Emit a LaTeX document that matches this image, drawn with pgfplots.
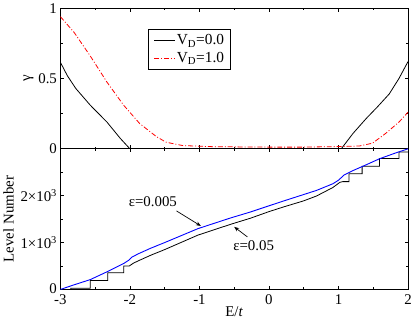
\documentclass[border=0pt]{standalone}
\usepackage{fontspec}
\setmainfont{Liberation Serif}
\usepackage{pgfplots}
\pgfplotsset{compat=1.18}
\usetikzlibrary{arrows.meta}

\pgfplotsset{
  panel/.style={
    scale only axis, width=351pt, height=142pt,
    xmin=-3, xmax=2,
    xtick={-3,-2,...,2}, minor xtick={-2.5,-1.5,...,1.5},
    tick align=inside, major tick length=3.5pt, minor tick length=2.3pt,
    axis line style={line width=0.9pt},
    every tick/.style={black, line width=0.8pt},
    ticklabel style={font=\fontsize{15}{17}\selectfont},
    label style={font=\fontsize{15}{17}\selectfont},
    /pgf/number format/assume math mode=true,
  },
}

\begin{document}
\begin{tikzpicture}
% upper panel: gamma
\begin{axis}[panel,
    at={(0pt,142pt)}, anchor=south west,
    xticklabels={},
    ymin=0, ymax=1,
    ytick={0,0.5,1}, yticklabels={0,0.5,1},
    minor ytick={0.25,0.75},
    ylabel={γ},
    ylabel style={yshift=-2pt},
    legend style={at={(rel axis cs:0.253,0.854)}, anchor=north west,
      draw=black, line width=1pt, font=\fontsize{15.5}{17}\selectfont,
      inner xsep=5pt, inner ysep=4pt, row sep=3pt,
      nodes={inner sep=1.5pt}},
    legend cell align=left,
    legend image code/.code={\draw[#1] (0pt,0pt) -- (21pt,0pt);},
]
\addplot[black, line width=0.8pt] coordinates {
  (-3,0.615)(-2.9,0.52)(-2.78,0.43)(-2.57,0.31)(-2.33,0.19)(-2.14,0.075)(-2.0,0.0)
  (1.04,0)(1.21,0.11)(1.40,0.216)(1.56,0.298)(1.73,0.39)(1.87,0.50)(2,0.62)
};
\addlegendentry{V\textsubscript{D}=0.0}
\addplot[red, line width=0.8pt, dash pattern=on 5pt off 2pt on 1pt off 2pt] coordinates {
  (-3,0.94)(-2.8,0.826)(-2.57,0.66)(-2.33,0.474)(-2.09,0.31)(-1.86,0.18)
  (-1.62,0.087)(-1.48,0.047)(-1.24,0.023)(-0.8,0.015)(0,0.012)(0.45,0.012)
  (1.02,0.016)(1.30,0.02)(1.49,0.04)(1.68,0.11)(1.87,0.19)(2,0.26)
};
\addlegendentry{V\textsubscript{D}=1.0}
\end{axis}

% lower panel: level number
\begin{axis}[panel,
    at={(0pt,0pt)}, anchor=south west,
    ymin=0, ymax=3000,
    ytick={0,1000,2000},
    yticklabels={\raisebox{1.5pt}{0},\mbox{1×10\textsuperscript{3}},\mbox{2×10\textsuperscript{3}}},
    minor ytick={500,1500,2500},
    xticklabels={-3,-2,-1,0,1,2},
    xticklabel style={yshift=-2pt},
    xlabel={E/\textit{t}},
    xlabel style={yshift=5pt},
    ylabel={Level Number},
]
% epsilon = 0.05
\addplot[black, line width=0.8pt] coordinates {
  (-3,0)(-2.85,0)(-2.85,25)(-2.57,25)(-2.57,190)(-2.32,190)(-2.32,355)(-2.09,355)
  (-2.09,500)(-2.01,500)(-1.95,560)(-1.88,610)(-1.7,730)(-1.5,850)(-1.02,1160)
  (-0.55,1390)(-0.265,1520)(0,1660)(0.21,1760)(0.5,1890)(0.685,1994)(0.92,2175)
  (1.02,2285)(1.06,2300)(1.15,2300)(1.15,2468)(1.34,2468)(1.34,2630)(1.59,2630)
  (1.59,2795)(1.87,2795)(1.87,2930)(2,2930)
};
% epsilon = 0.005
\addplot[blue, line width=0.9pt] coordinates {
  (-3,0)(-2.8,100)(-2.57,210)(-2.33,376)(-2.09,553)(-2.02,620)(-1.97,690)(-1.88,760)
  (-1.7,880)(-1.5,1000)(-1.02,1298)(-0.55,1526)(-0.265,1653)(0.02,1794)(0.21,1887)
  (0.685,2113)(0.92,2255)(1.0,2330)(1.08,2440)(1.2,2530)(1.4,2660)(1.59,2788)
  (1.8,2900)(2,3000)
};
\node[font=\fontsize{15}{17}\selectfont] at (axis cs:-1.67,1873) {ε=0.005};
\draw[line width=0.7pt, -{Stealth[length=5pt,width=4pt]}] (axis cs:-1.33,1675) -- (axis cs:-0.98,1355);
\node[font=\fontsize{15}{17}\selectfont] at (axis cs:-0.22,943) {ε=0.05};
\draw[line width=0.7pt, -{Stealth[length=5pt,width=4pt]}] (axis cs:-0.31,1121) -- (axis cs:-0.50,1334);
\end{axis}
\end{tikzpicture}
\end{document}
